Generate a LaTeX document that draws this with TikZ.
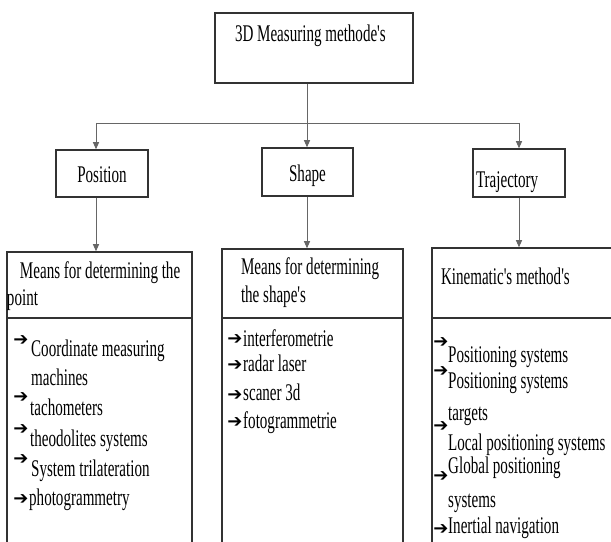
\documentclass[tikz,border=0pt]{standalone}
\usepackage{fontspec}
\setmainfont{Liberation Serif}[FakeStretch=0.63,Ligatures=TeXOff]
\newfontfamily\arrowfont{DejaVu Sans}
\usetikzlibrary{arrows.meta}
\tikzset{
  box/.style={draw=black!80, line width=1.5bp, fill=white, inner ysep=0pt,
              execute at begin node={\spaceskip=0pt\xspaceskip=0pt\relax}},
  conn/.style={draw=black!60, line width=0.9bp},
  tip/.style={-{Triangle[length=7bp,width=6bp]}},
  big/.style={font=\fontsize{24}{28}\selectfont},
  itm/.style={anchor=base west, inner sep=0pt, big},
  arw/.style={anchor=center, inner sep=0pt, font=\arrowfont\fontsize{18}{18}\selectfont},
}
\begin{document}
\begin{tikzpicture}[x=1bp,y=-1bp]
\useasboundingbox (0,0) rectangle (611,542);
\begin{scope}
\clip (0,0) rectangle (611,542);
% top level
\node[box, big, inner xsep=20bp, text width=158bp, align=left, text height=29bp, text depth=41bp]
  (top) at (314,48) {3D Measuring methode's};
\node[box, big, inner xsep=0pt, text width=92bp, align=center, text height=33bp, text depth=14bp]
  (pos) at (102,173.5) {Position};
\node[box, big, inner xsep=0pt, text width=91bp, align=center, text height=34bp, text depth=14bp]
  (shp) at (307.5,172) {Shape};
\node[box, big, inner xsep=3bp, text width=86bp, align=left, text height=39bp, text depth=9bp]
  (trj) at (519,173) {Trajectory};
% lower headers
\node[box, inner xsep=0pt, text width=185bp, align=left, text height=26bp, text depth=40bp,
      font=\fontsize{24}{28}\selectfont] (lh) at (99.5,285) {\hspace*{13bp}Means for determining the\\point};
\node[box, inner xsep=19bp, text width=143bp, align=left, text height=25bp, text depth=44bp,
      font=\fontsize{24}{29}\selectfont] (mh) at (312.5,283.5) {Means for determining\\the shape's};
\node[box, big, inner xsep=9bp, text width=175bp, align=left, text height=36bp, text depth=34bp]
  (rh) at (528.5,283) {Kinematic's method's};
% lower lists
\node[box, minimum width=185bp, minimum height=242bp] (ll) at (99.5,439) {};
\node[box, minimum width=181bp, minimum height=242bp] (ml) at (312.5,439) {};
\node[box, minimum width=193bp, minimum height=242bp] (rl) at (528.5,439) {};
% connectors
\coordinate (j) at (307,123);
\coordinate (jl) at (96,123);
\coordinate (jr) at (519,123);
\draw[conn] (top.south -| j) -- (j);
\draw[conn] (jl) -- (jr);
\draw[conn,tip] (jl) -- (pos.north -| jl);
\draw[conn,tip] (j) -- (shp.north -| j);
\draw[conn,tip] (jr) -- (trj.north -| jr);
\draw[conn,tip] (pos.south -| jl) -- (lh.north -| jl);
\draw[conn,tip] (shp.south -| j) -- (mh.north -| j);
\draw[conn,tip] (trj.south -| jr) -- (rh.north -| jr);
% left items
\node[arw] (la1) at (21,341) {➔};
\node[itm] (l1) at (31,356) {Coordinate measuring};
\node[itm] (l1b) at (31,385) {machines};
\node[arw] (la2) at (21,398) {➔};
\node[itm] (l2) at (30,415) {tachometers};
\node[arw] (la3) at (21,430) {➔};
\node[itm] (l3) at (30,446) {theodolites systems};
\node[arw] (la4) at (21,460) {➔};
\node[itm] (l4) at (31,476) {System trilateration};
\node[arw] (la5) at (21,500) {➔};
\node[itm] (l5) at (29,505) {photogrammetry};
% middle items
\node[arw] (ma1) at (235,340) {➔};
\node[itm] (m1) at (243,346) {interferometrie};
\node[arw] (ma2) at (235,366) {➔};
\node[itm] (m2) at (243,371) {radar laser};
\node[arw] (ma3) at (235,396) {➔};
\node[itm] (m3) at (243,400) {scaner 3d};
\node[arw] (ma4) at (235,423) {➔};
\node[itm] (m4) at (243,428) {fotogrammetrie};
% right items
\node[arw] (ra1) at (441,343) {➔};
\node[itm] (r1) at (448,362) {Positioning systems};
\node[arw] (ra2) at (441,372) {➔};
\node[itm] (r2) at (448,388) {Positioning systems};
\node[itm] (r2b) at (448,420) {targets};
\node[arw] (ra3) at (441,427) {➔};
\node[itm] (r3) at (448,450) {Local positioning systems};
\node[arw] (ra4) at (441,477) {➔};
\node[itm] (r4) at (448,473) {Global positioning};
\node[itm] (r4b) at (448,507) {systems};
\node[arw] (ra5) at (441,530) {➔};
\node[itm] (r5) at (448,533) {Inertial navigation};
\end{scope}
\end{tikzpicture}
\end{document}
